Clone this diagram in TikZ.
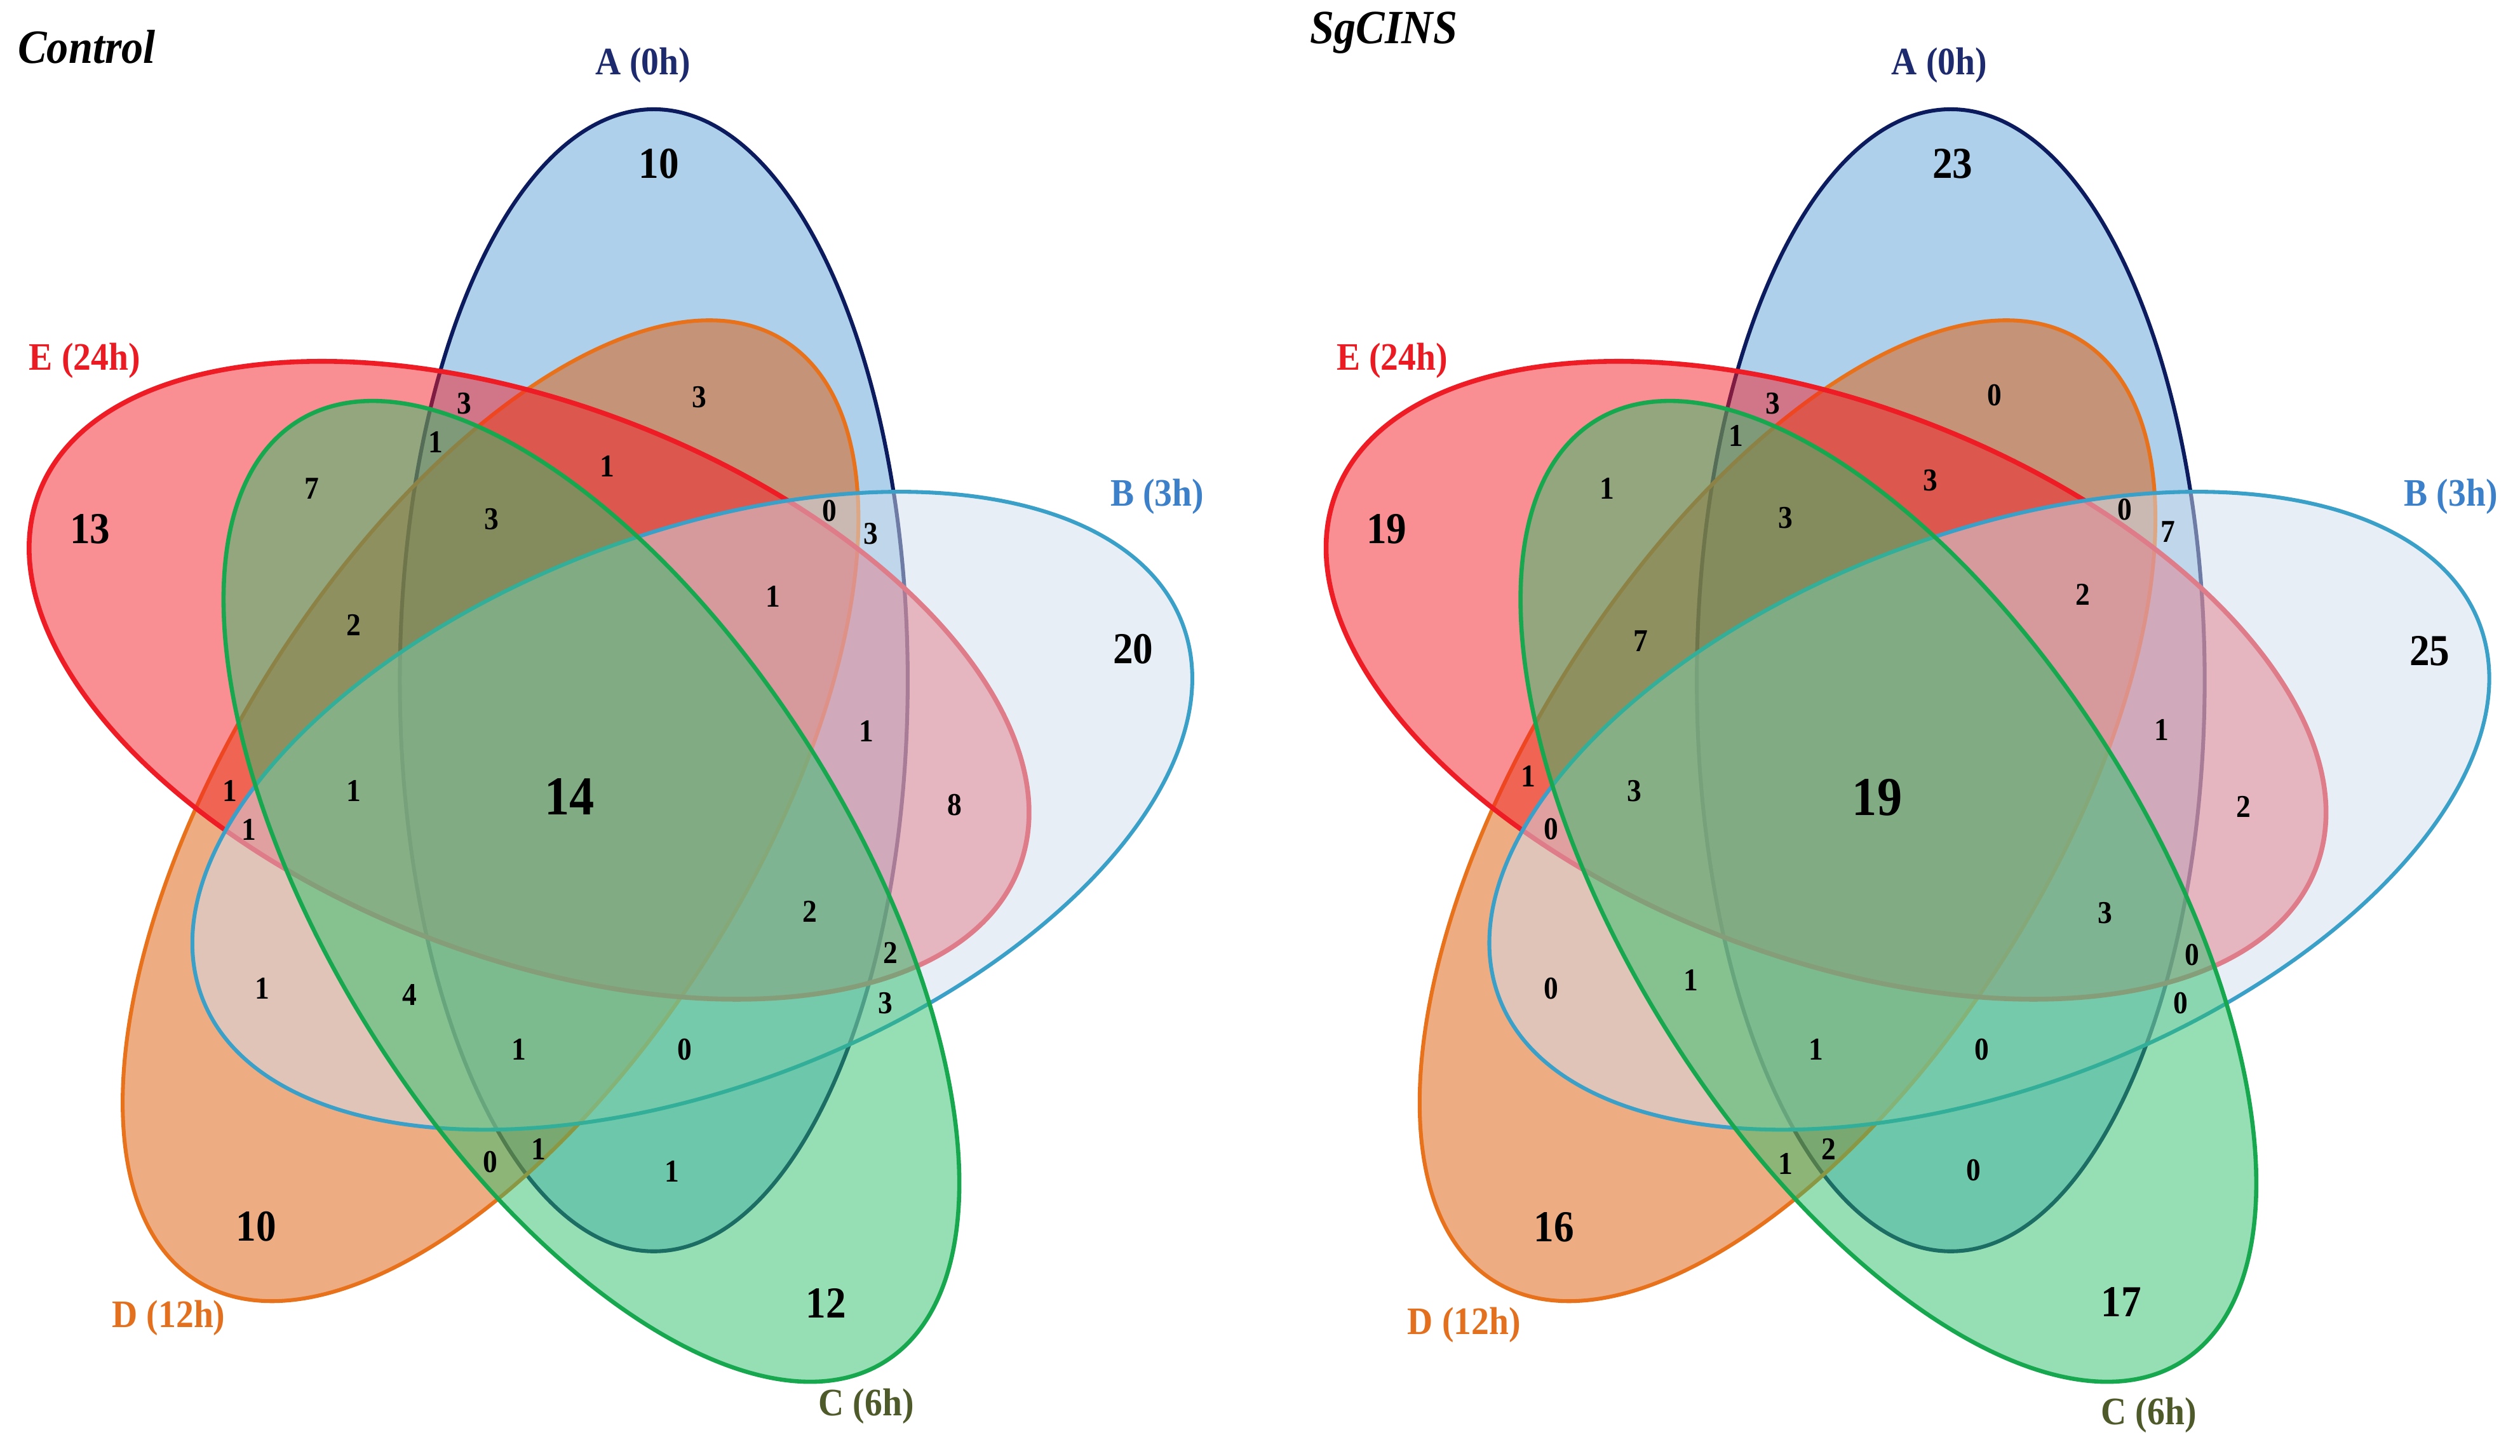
\documentclass[tikz,border=0pt]{standalone}
\usepackage{fontspec}
\setmainfont{Liberation Serif}
\definecolor{Afill}{HTML}{5DA1D5}
\definecolor{Aline}{HTML}{0B1B5E}
\definecolor{Bfill}{HTML}{D1DDED}
\definecolor{Bline}{HTML}{3AA0C8}
\definecolor{Cfill}{HTML}{2DBF6B}
\definecolor{Cline}{HTML}{17A84F}
\definecolor{Dfill}{HTML}{DD5A08}
\definecolor{Dline}{HTML}{E8711C}
\definecolor{Efill}{HTML}{F31D27}
\definecolor{Eline}{HTML}{EE1C25}
\definecolor{Atext}{HTML}{1E2A6E}
\definecolor{Btext}{HTML}{3D80CA}
\definecolor{Ctext}{HTML}{4F5A2B}
\definecolor{Dtext}{HTML}{E2701E}
\definecolor{Etext}{HTML}{EA1B23}
\newcommand\st[1]{\scalebox{1}[1.1]{#1}}
\newcommand\fiveell{%
  \path[Aset] (54:66) ellipse [x radius=158, y radius=323];
  \path[Dset, rotate=216] (54:66) ellipse [x radius=158, y radius=323];
  \path[Eset, rotate=288] (54:66) ellipse [x radius=158, y radius=323];
  \path[Bset, rotate=72] (54:66) ellipse [x radius=158, y radius=323];
  \path[Cset, rotate=144] (54:66) ellipse [x radius=158, y radius=323];
}
\tikzset{
  Aset/.style={fill=Afill, fill opacity=0.5, draw=Aline, line width=2.4},
  Bset/.style={fill=Bfill, fill opacity=0.5, draw=Bline, line width=2.4},
  Cset/.style={fill=Cfill, fill opacity=0.5, draw=Cline, line width=2.6},
  Dset/.style={fill=Dfill, fill opacity=0.5, draw=Dline, line width=2.4},
  Eset/.style={fill=Efill, fill opacity=0.5, draw=Eline, line width=3.0},
  num/.style={font=\fontsize{18}{18}\selectfont\bfseries, inner sep=0pt},
  outer/.style={font=\fontsize{25}{25}\selectfont\bfseries, inner sep=0pt},
  centre/.style={font=\fontsize{31}{31}\selectfont\bfseries, inner sep=0pt},
  lab/.style={font=\fontsize{22}{22}\selectfont\bfseries, inner sep=0pt},
  ttl/.style={font=\fontsize{27}{27}\selectfont\bfseries\itshape, inner sep=0pt, anchor=west},
}
\begin{document}
\begin{tikzpicture}[x=1pt, y=-1pt]
\useasboundingbox (0,0) rectangle (1568,905.6);
% left diagram
\begin{scope}[shift={(368,482)}, yscale=-1.1]
  \fiveell
\end{scope}
% right diagram
\begin{scope}[shift={(1175,482)}, yscale=-1.1]
  \fiveell
\end{scope}
% titles and set labels
\node[ttl] (tL) at (11,29) {\st{Control}};
\node[ttl] (tR) at (815,20.3) {\st{SgCINS}};
\node[lab, text=Atext] (aL) at (400,40.5) {\st{A (0h)}};
\node[lab, text=Etext] (eL) at (52.7,224.6) {\st{E (24h)}};
\node[lab, text=Btext] (bL) at (720,309) {\st{B (3h)}};
\node[lab, text=Dtext] (dL) at (105,820) {\st{D (12h)}};
\node[lab, text=Ctext] (cL) at (539,875) {\st{C (6h)}};
\node[lab, text=Atext] (aR) at (1206.7,40.6) {\st{A (0h)}};
\node[lab, text=Etext] (eR) at (866.3,224.6) {\st{E (24h)}};
\node[lab, text=Btext] (bR) at (1525,309) {\st{B (3h)}};
\node[lab, text=Dtext] (dR) at (911,824.5) {\st{D (12h)}};
\node[lab, text=Ctext] (cR) at (1337,880.6) {\st{C (6h)}};
% large counts
\foreach \x/\y/\t [count=\i] in {410/102/10, 56/329/13, 705/404/20, 159.5/763/10, 514/811/12,
  1215/102/23, 862.8/329/19, 1511.8/405/25, 967/763.5/16, 1320/810/17}
  \node[outer] (o\i) at (\x,\y) {\st{\t}};
\node[centre] (cenL) at (354.5,495.6) {\st{14}};
\node[centre] (cenR) at (1168,496) {\st{19}};
% small counts, left
\foreach \x/\y/\t [count=\i] in {289/251/3, 271/275/1, 435/247/3, 194/304/7, 378/290/1,
  306/323/3, 516/318/0, 542/332/3, 220/389/2, 481/371/1, 539/455/1, 594/501/8,
  143/492/1, 155/516/1, 220/492/1, 504/567/2, 554/593/2, 551/624/3, 163/615/1,
  255/619/4, 323/653/1, 426/653/0, 335/715/1, 305/723/0, 418/729/1}
  \node[num] (l\i) at (\x,\y) {\st{\t}};
% small counts, right
\foreach \x/\y/\t [count=\i] in {1103/251/3, 1080/271/1, 1241/246/0, 1000/304/1, 1201/299/3,
  1111/322/3, 1322/317/0, 1349/331/7, 1296/370/2, 1021/399/7, 1345/454/1, 1396/502/2,
  951/483/1, 965/516/0, 1017/492/3, 1310/568/3, 1364/594/0, 1357/624/0, 965/615/0,
  1052/610/1, 1130/653/1, 1233/653/0, 1138/715/2, 1111/724/1, 1228/728/0}
  \node[num] (r\i) at (\x,\y) {\st{\t}};
\end{tikzpicture}
\end{document}
